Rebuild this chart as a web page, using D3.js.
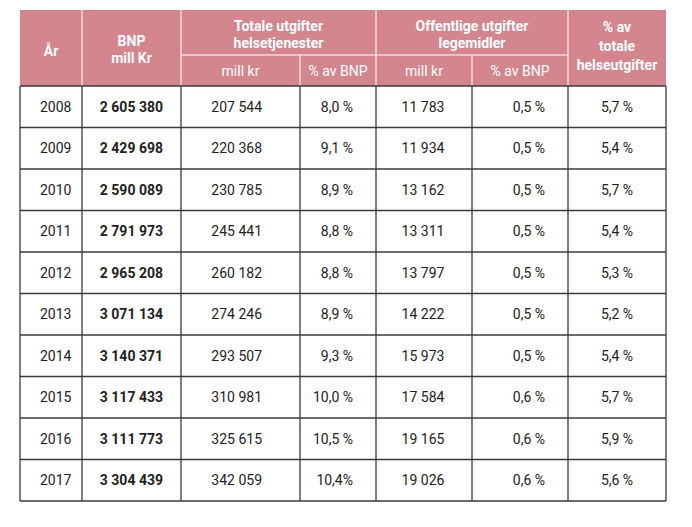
<!DOCTYPE html>
<html>
<head>
<meta charset="utf-8">
<script src="https://cdn.jsdelivr.net/npm/d3@7"></script>
<style>
  body { margin: 0; background: #fff; }
  svg { display: block; font-family: Roboto, "Noto Sans", sans-serif; }
  .head { fill: #fff; font-weight: 700; font-size: 14px; }
  .sub { fill: #fff; font-size: 14px; }
  .cell { fill: #222; font-size: 14px; }
  .bold { font-weight: 700; }
</style>
</head>
<body>
<svg id="chart" width="692" height="527"></svg>
<script>
// Data
const years = [2008, 2009, 2010, 2011, 2012, 2013, 2014, 2015, 2016, 2017];
const bnp = ['2 605 380', '2 429 698', '2 590 089', '2 791 973', '2 965 208', '3 071 134', '3 140 371', '3 117 433', '3 111 773', '3 304 439'];
const helseMill = ['207 544', '220 368', '230 785', '245 441', '260 182', '274 246', '293 507', '310 981', '325 615', '342 059'];
const helsePst = ['8,0 %', '9,1 %', '8,9 %', '8,8 %', '8,8 %', '8,9 %', '9,3 %', '10,0 %', '10,5 %', '10,4%'];
const legeMill = ['11 783', '11 934', '13 162', '13 311', '13 797', '14 222', '15 973', '17 584', '19 165', '19 026'];
const legePst = ['0,5 %', '0,5 %', '0,5 %', '0,5 %', '0,5 %', '0,5 %', '0,5 %', '0,6 %', '0,6 %', '0,6 %'];
const andelHelse = ['5,7 %', '5,4 %', '5,7 %', '5,4 %', '5,3 %', '5,2 %', '5,4 %', '5,7 %', '5,9 %', '5,6 %'];

// Layout
const edges = [20, 82, 181, 300, 376, 472, 568, 666];
const headTop = 10, subY = 55, headBottom = 86, tableBottom = 501;
const pink = '#d4868f';
const lineColor = '#3a3a3a';

const svg = d3.select('#chart');
const y = d3.scaleBand().domain(years).range([headBottom, tableBottom]);

// header background
svg.append('rect').attr('x', edges[0]).attr('y', headTop)
  .attr('width', edges[7] - edges[0]).attr('height', headBottom - headTop).attr('fill', pink);

// white header separators
const hg = svg.append('g').attr('stroke', '#fff').attr('stroke-width', 1);
[1, 2, 4, 6].forEach(i => {
  hg.append('line').attr('x1', edges[i]).attr('x2', edges[i]).attr('y1', headTop).attr('y2', headBottom);
});
[3, 5].forEach(i => hg.append('line').attr('x1', edges[i]).attr('x2', edges[i]).attr('y1', subY).attr('y2', headBottom));
hg.append('line').attr('x1', edges[2]).attr('x2', edges[6]).attr('y1', subY).attr('y2', subY);

// header text
function headText(x, yy, lines, cls, step) {
  const t = svg.append('text').attr('class', cls).attr('text-anchor', 'middle');
  lines.forEach((s, i) => t.append('tspan').attr('x', x).attr('y', yy + i * (step || 16)).text(s));
}
const mid = i => (edges[i] + edges[i + 1]) / 2;
headText(mid(0), 56, ['År'], 'head');
headText(mid(1), 46, ['BNP', 'mill Kr'], 'head', 17);
headText((edges[2] + edges[4]) / 2, 31, ['Totale utgifter', 'helsetjenester'], 'head', 17);
headText((edges[4] + edges[6]) / 2, 31, ['Offentlige utgifter', 'legemidler'], 'head', 17);
headText(mid(6), 32, ['% av', 'totale', 'helseutgifter'], 'head', 19);
headText(mid(2), 76, ['mill kr'], 'sub');
headText(mid(3), 76, ['% av BNP'], 'sub');
headText(mid(4), 76, ['mill kr'], 'sub');
headText(mid(5), 76, ['% av BNP'], 'sub');

// body columns
const columns = [
  { values: years, x: 40, anchor: 'start' },
  { values: bnp, x: 163, anchor: 'end', bold: true },
  { values: helseMill, x: 262, anchor: 'end' },
  { values: helsePst, x: 353, anchor: 'end' },
  { values: legeMill, x: 423, anchor: 'middle' },
  { values: legePst, x: 545, anchor: 'end' },
  { values: andelHelse, x: 617, anchor: 'middle' }
];

columns.forEach(col => {
  svg.append('g').selectAll('text')
    .data(years.map((yr, i) => ({ yr, v: col.values[i] })))
    .join('text')
    .attr('class', col.bold ? 'cell bold' : 'cell')
    .attr('x', col.x)
    .attr('y', d => y(d.yr) + y.bandwidth() / 2)
    .attr('dy', '0.35em')
    .attr('text-anchor', col.anchor)
    .text(d => d.v);
});

// grid lines
const grid = svg.append('g').attr('stroke', lineColor).attr('stroke-width', 1.3).attr('fill', 'none');
years.forEach(yr => {
  grid.append('line').attr('x1', edges[0]).attr('x2', edges[7]).attr('y1', y(yr) + y.bandwidth()).attr('y2', y(yr) + y.bandwidth());
});
grid.append('line').attr('x1', edges[0]).attr('x2', edges[7]).attr('y1', headBottom).attr('y2', headBottom);
edges.forEach(x => {
  grid.append('line').attr('x1', x).attr('x2', x).attr('y1', headBottom).attr('y2', tableBottom);
});
</script>
</body>
</html>
